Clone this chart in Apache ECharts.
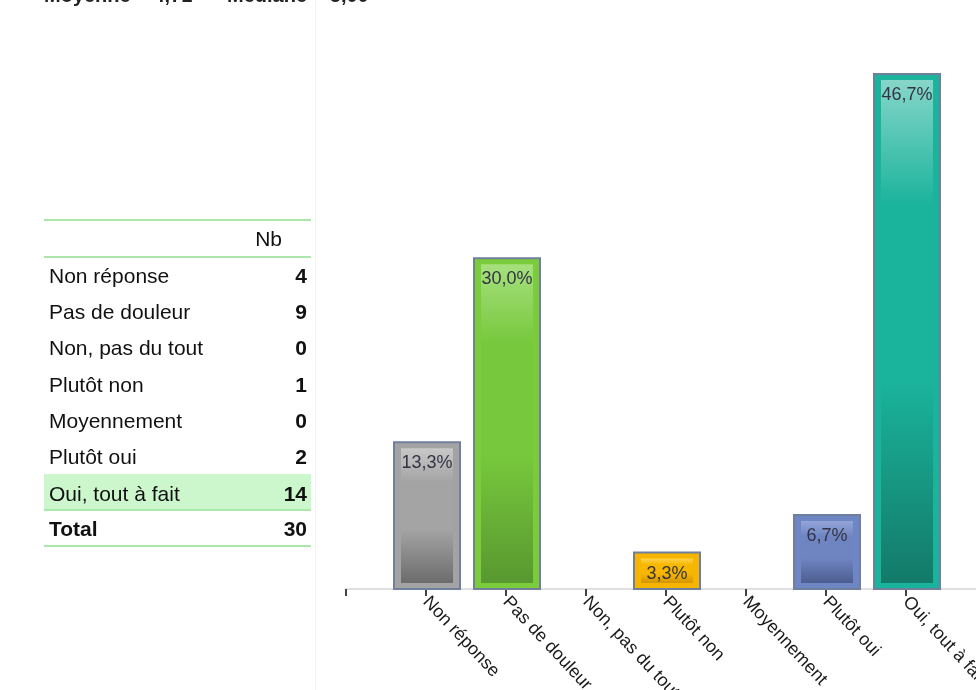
<!DOCTYPE html>
<html>
<head>
<meta charset="utf-8">
<script src="https://cdn.jsdelivr.net/npm/echarts@6/dist/echarts.min.js"></script>
<style>
  html, body { margin: 0; padding: 0; background: #fff; }
  #chart { width: 976px; height: 690px; }
</style>
</head>
<body>
<div id="chart"></div>
<script>
const categories = ['Non réponse', 'Pas de douleur', 'Non, pas du tout', 'Plutôt non', 'Moyennement', 'Plutôt oui', 'Oui, tout à fait'];
const counts = [4, 9, 0, 1, 0, 2, 14];
const total = 30;
const percents = [13.3, 30.0, 0, 3.3, 0, 6.7, 46.7];
const statsText = ['Moyenne = 4,71', 'Médiane = 5,00'];

// bar colours: frame, gradient top, gradient middle, gradient bottom
const frameColors = ['#a3a3a3', '#7acc3a', '#a3a3a3', '#f6b500', '#a3a3a3', '#6f86c6', '#1ab39c'];
const topColors = ['#c8c8c8', '#a6e07e', '#c8c8c8', '#ffd34e', '#c8c8c8', '#93a4d8', '#86d6c9'];
const midColors = ['#a4a4a4', '#77c83c', '#a4a4a4', '#f7b700', '#a4a4a4', '#6f85c2', '#1ab39c'];
const bottomColors = ['#6c6c6c', '#589830', '#6c6c6c', '#d49600', '#6c6c6c', '#4c5d8f', '#137a68'];

// axis gets an empty slot before and after so the first tick sits left of the bars
const axisCategories = [''].concat(categories, ['']);
const barData = percents.map((p, i) => [i + 1, p]);

const chart = echarts.init(document.getElementById('chart'));

function fmt(v) {
  return v.toFixed(1).replace('.', ',') + '%';
}

function renderBar(params, api) {
  const idx = params.dataIndex;
  const v = api.value(1);
  if (!v) return null;
  const top = api.coord([api.value(0), v]);
  const base = api.coord([api.value(0), 0]);
  const cx = top[0] + 1;
  const h = base[1] - top[1];
  return {
    type: 'group',
    children: [
      {
        type: 'rect',
        shape: { x: cx - 33, y: top[1], width: 66, height: h },
        style: { fill: frameColors[idx], stroke: '#6f7f9c', lineWidth: 2 }
      },
      {
        type: 'rect',
        shape: { x: cx - 26, y: top[1] + 6, width: 52, height: Math.max(h - 12, 1) },
        style: {
          fill: new echarts.graphic.LinearGradient(0, 0, 0, 1, [
            { offset: 0, color: topColors[idx] },
            { offset: 0.25, color: midColors[idx] },
            { offset: 0.6, color: midColors[idx] },
            { offset: 1, color: bottomColors[idx] }
          ])
        }
      },
      {
        type: 'text',
        style: {
          text: fmt(v),
          x: cx,
          y: top[1] + 21,
          align: 'center',
          verticalAlign: 'middle',
          font: '18px "Liberation Sans", Arial, sans-serif',
          fill: '#333344'
        }
      }
    ]
  };
}

// left table, drawn with graphic elements
const tableFont = '"Liberation Sans", Arial, sans-serif';
const lineColor = '#8fdf8f';
const tableLeft = 44, tableRight = 311;
const rowY0 = 277, rowStep = 36.3;
const tableGraphics = [];

function hLine(y) {
  tableGraphics.push({
    type: 'line',
    shape: { x1: tableLeft, y1: y, x2: tableRight, y2: y },
    style: { stroke: lineColor, lineWidth: 1.5 }
  });
}

// highlighted last answer row
tableGraphics.push({
  type: 'rect',
  shape: { x: tableLeft, y: 474, width: tableRight - tableLeft, height: 35 },
  style: { fill: '#ccf7cc' }
});
hLine(220);
hLine(257);
hLine(510);
hLine(546);

tableGraphics.push({
  type: 'text',
  style: { text: 'Nb', x: 282, y: 240, align: 'right', verticalAlign: 'middle', font: '21px ' + tableFont, fill: '#111' }
});

categories.forEach((c, i) => {
  const y = rowY0 + i * rowStep;
  tableGraphics.push({
    type: 'text',
    style: { text: c, x: 49, y: y, align: 'left', verticalAlign: 'middle', font: '21px ' + tableFont, fill: '#111' }
  });
  tableGraphics.push({
    type: 'text',
    style: { text: String(counts[i]), x: 307, y: y, align: 'right', verticalAlign: 'middle', font: 'bold 21px ' + tableFont, fill: '#111' }
  });
});

tableGraphics.push({
  type: 'text',
  style: { text: 'Total', x: 49, y: 530, align: 'left', verticalAlign: 'middle', font: 'bold 21px ' + tableFont, fill: '#111' }
});
tableGraphics.push({
  type: 'text',
  style: { text: String(total), x: 307, y: 530, align: 'right', verticalAlign: 'middle', font: 'bold 21px ' + tableFont, fill: '#111' }
});

// stats line, mostly cut off by the top edge
tableGraphics.push({
  type: 'text',
  style: { text: statsText[0], x: 44, y: -4, align: 'left', verticalAlign: 'middle', font: 'bold 20px ' + tableFont, fill: '#222' }
});
tableGraphics.push({
  type: 'text',
  style: { text: statsText[1], x: 227, y: -4, align: 'left', verticalAlign: 'middle', font: 'bold 20px ' + tableFont, fill: '#222' }
});

// faint separator
tableGraphics.push({
  type: 'line',
  shape: { x1: 315.5, y1: 0, x2: 315.5, y2: 690 },
  style: { stroke: '#f2f2f2', lineWidth: 1 }
});

chart.setOption({
  animation: false,
  backgroundColor: '#ffffff',
  grid: {
    left: 346,
    right: -10,
    top: 37.6,
    bottom: 101,
    outerBoundsMode: 'none'
  },
  xAxis: {
    type: 'category',
    data: axisCategories,
    boundaryGap: false,
    axisLine: { lineStyle: { color: '#d6d6d6', width: 1.5 } },
    axisTick: { length: 7, lineStyle: { color: '#444', width: 2 } },
    axisLabel: {
      interval: 0,
      rotate: -47,
      margin: 10,
      color: '#1a1a1a',
      fontSize: 18,
      fontFamily: 'Liberation Sans, Arial, sans-serif'
    },
    splitLine: { show: false }
  },
  yAxis: {
    type: 'value',
    min: 0,
    max: 50,
    show: false
  },
  graphic: tableGraphics,
  series: [
    {
      type: 'custom',
      renderItem: renderBar,
      encode: { x: 0, y: 1 },
      data: barData,
      clip: false
    }
  ]
});
</script>
</body>
</html>
